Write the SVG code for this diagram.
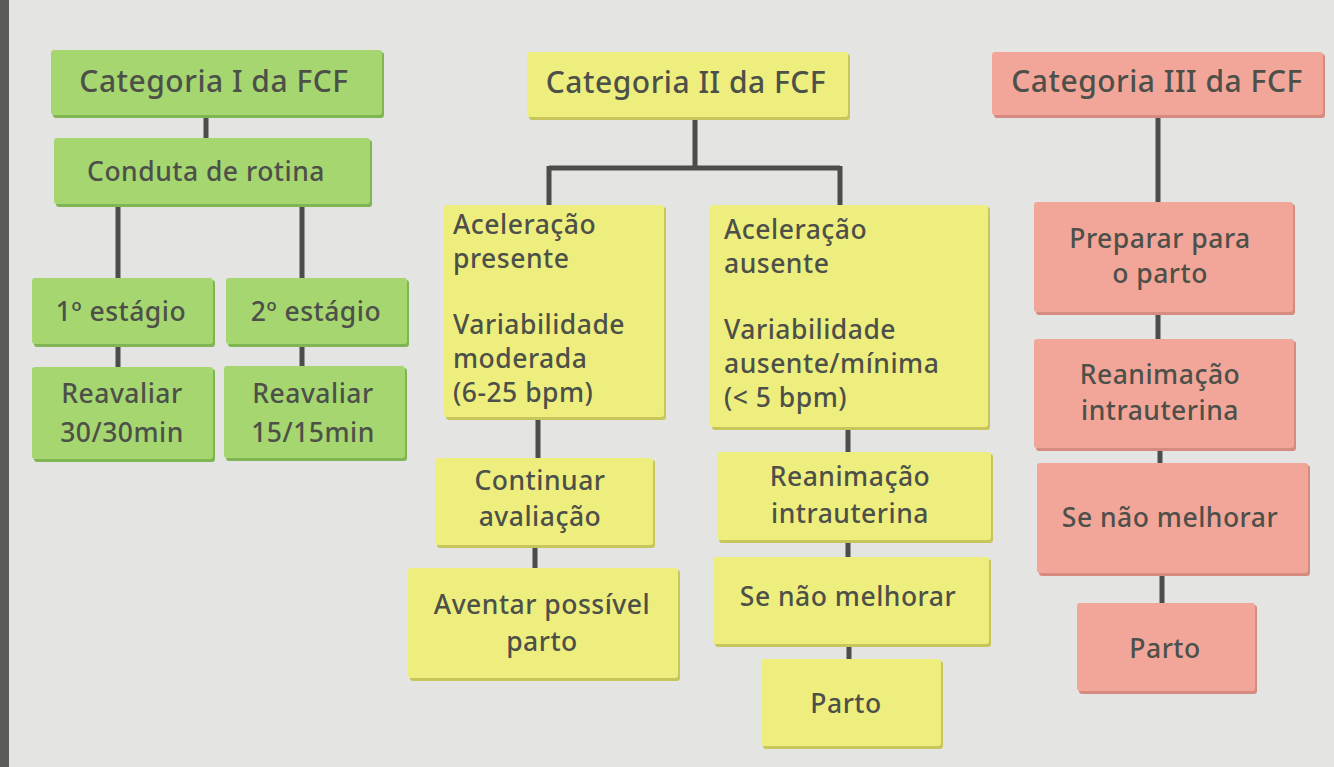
<svg xmlns="http://www.w3.org/2000/svg" width="1334" height="767" viewBox="0 0 1334 767">
<defs>
<style>
.g{fill:#a5d670}
.gs{fill:#7fb552}
.y{fill:#eeee7e}
.ys{fill:#c8c65a}
.r{fill:#f2a599}
.rs{fill:#d58b80}
text{font-family:"Noto Sans","Open Sans",sans-serif;font-weight:500;fill:#4d5049;letter-spacing:0.5px}
.t1{font-size:30px}
.t2{font-size:26.5px}
.c{text-anchor:middle}
.ln{stroke:#4a4d4a;stroke-width:5;fill:none}
</style>
</defs>
<rect width="1334" height="767" fill="#e4e5e2"/>
<rect x="0" y="0" width="9" height="767" fill="#5a5c5a"/>
<g id="connectors">
<path class="ln" d="M206 116V139"/>
<path class="ln" d="M118 205V279M302 205V279"/>
<path class="ln" d="M118 345V368M302 345V368"/>
<path class="ln" d="M695 118V168M549 168H840M549 166V206M840 166V206"/>
<path class="ln" d="M538 418V458M535 545V569"/>
<path class="ln" d="M848 428V453M848 540V558M849 644V659"/>
<path class="ln" d="M1158 115V203M1158 312V339M1160 448V463M1162 573V603"/>
</g>
<g id="cat1">
<rect class="gs" x="53" y="52" width="331" height="66" rx="3"/>
<rect class="g" x="51" y="50" width="331" height="65" rx="3"/>
<text class="t1 c" x="214" y="92">Categoria I da FCF</text>
</g>
<g id="conduta">
<rect class="gs" x="56" y="140" width="316" height="67" rx="3"/>
<rect class="g" x="54" y="138" width="316" height="66" rx="3"/>
<text class="t2 c" x="206" y="181">Conduta de rotina</text>
</g>
<g id="estagio1">
<rect class="gs" x="34" y="280" width="181" height="67" rx="3"/>
<rect class="g" x="32" y="278" width="181" height="66" rx="3"/>
<text class="t2 c" x="121" y="321">1º estágio</text>
</g>
<g id="estagio2">
<rect class="gs" x="228" y="280" width="181" height="67" rx="3"/>
<rect class="g" x="226" y="278" width="181" height="66" rx="3"/>
<text class="t2 c" x="316" y="321">2º estágio</text>
</g>
<g id="reav30">
<rect class="gs" x="34" y="369" width="181" height="93" rx="3"/>
<rect class="g" x="32" y="367" width="181" height="92" rx="3"/>
<text class="t2 c" x="122" y="403">Reavaliar</text>
<text class="t2 c" x="122" y="442">30/30min</text>
</g>
<g id="reav15">
<rect class="gs" x="226" y="368" width="181" height="93" rx="3"/>
<rect class="g" x="224" y="366" width="181" height="92" rx="3"/>
<text class="t2 c" x="313" y="403">Reavaliar</text>
<text class="t2 c" x="313" y="442">15/15min</text>
</g>
<g id="cat2">
<rect class="ys" x="529" y="54" width="321" height="66" rx="3"/>
<rect class="y" x="527" y="52" width="321" height="65" rx="3"/>
<text class="t1 c" x="686" y="93">Categoria II da FCF</text>
</g>
<g id="acelPres">
<rect class="ys" x="446" y="207" width="220" height="213" rx="3"/>
<rect class="y" x="444" y="205" width="220" height="212" rx="3"/>
<text class="t2" x="453" y="234">Aceleração</text>
<text class="t2" x="453" y="268">presente</text>
<text class="t2" x="453" y="334">Variabilidade</text>
<text class="t2" x="453" y="368">moderada</text>
<text class="t2" x="453" y="402">(6-25 bpm)</text>
</g>
<g id="acelAus">
<rect class="ys" x="712" y="207" width="278" height="223" rx="3"/>
<rect class="y" x="710" y="205" width="278" height="222" rx="3"/>
<text class="t2" x="724" y="239">Aceleração</text>
<text class="t2" x="724" y="273">ausente</text>
<text class="t2" x="724" y="339">Variabilidade</text>
<text class="t2" x="724" y="373">ausente/mínima</text>
<text class="t2" x="724" y="407">(&lt; 5 bpm)</text>
</g>
<g id="continuar">
<rect class="ys" x="437" y="460" width="218" height="88" rx="3"/>
<rect class="y" x="435" y="458" width="218" height="87" rx="3"/>
<text class="t2 c" x="540" y="490">Continuar</text>
<text class="t2 c" x="540" y="526">avaliação</text>
</g>
<g id="aventar">
<rect class="ys" x="410" y="570" width="270" height="111" rx="3"/>
<rect class="y" x="408" y="568" width="270" height="110" rx="3"/>
<text class="t2 c" x="542" y="614">Aventar possível</text>
<text class="t2 c" x="542" y="651">parto</text>
</g>
<g id="reanim2">
<rect class="ys" x="719" y="454" width="274" height="89" rx="3"/>
<rect class="y" x="717" y="452" width="274" height="88" rx="3"/>
<text class="t2 c" x="850" y="486">Reanimação</text>
<text class="t2 c" x="850" y="523">intrauterina</text>
</g>
<g id="senao2">
<rect class="ys" x="715" y="559" width="276" height="88" rx="3"/>
<rect class="y" x="713" y="557" width="276" height="87" rx="3"/>
<text class="t2 c" x="848" y="606">Se não melhorar</text>
</g>
<g id="parto2">
<rect class="ys" x="763" y="661" width="180" height="88" rx="3"/>
<rect class="y" x="761" y="659" width="180" height="87" rx="3"/>
<text class="t2 c" x="846" y="713">Parto</text>
</g>
<g id="cat3">
<rect class="rs" x="994" y="54" width="331" height="64" rx="3"/>
<rect class="r" x="992" y="52" width="331" height="63" rx="3"/>
<text class="t1 c" x="1157" y="92">Categoria III da FCF</text>
</g>
<g id="preparar">
<rect class="rs" x="1036" y="204" width="259" height="111" rx="3"/>
<rect class="r" x="1034" y="202" width="259" height="110" rx="3"/>
<text class="t2 c" x="1160" y="248">Preparar para</text>
<text class="t2 c" x="1160" y="283">o parto</text>
</g>
<g id="reanim3">
<rect class="rs" x="1036" y="341" width="260" height="110" rx="3"/>
<rect class="r" x="1034" y="339" width="260" height="109" rx="3"/>
<text class="t2 c" x="1160" y="384">Reanimação</text>
<text class="t2 c" x="1160" y="420">intrauterina</text>
</g>
<g id="senao3">
<rect class="rs" x="1039" y="465" width="271" height="111" rx="3"/>
<rect class="r" x="1037" y="463" width="271" height="110" rx="3"/>
<text class="t2 c" x="1170" y="527">Se não melhorar</text>
</g>
<g id="parto3">
<rect class="rs" x="1079" y="605" width="178" height="89" rx="3"/>
<rect class="r" x="1077" y="603" width="178" height="88" rx="3"/>
<text class="t2 c" x="1165" y="658">Parto</text>
</g>
</svg>
